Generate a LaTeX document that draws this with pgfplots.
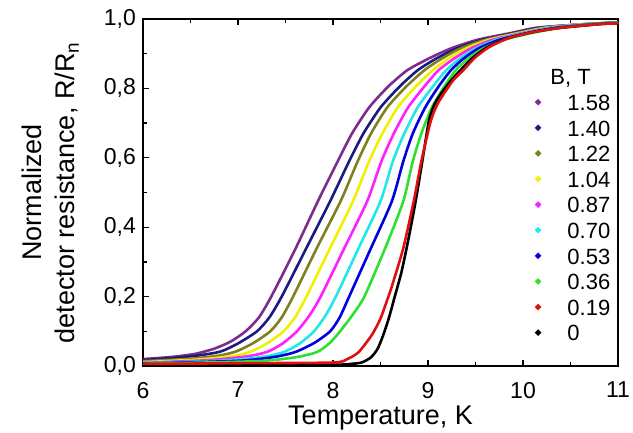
\documentclass[border=0pt]{standalone}
\usepackage{fontspec}
\setmainfont{Liberation Sans}
\usepackage{pgfplots}
\pgfplotsset{compat=1.18}

\definecolor{cPurple}{HTML}{7F2A8F}
\definecolor{cNavy}{HTML}{1A1A80}
\definecolor{cOlive}{HTML}{808020}
\definecolor{cYellow}{HTML}{F0F000}
\definecolor{cMagenta}{HTML}{FF20FF}
\definecolor{cCyan}{HTML}{20E8E8}
\definecolor{cBlue}{HTML}{0000E0}
\definecolor{cGreen}{HTML}{30E030}
\definecolor{cRed}{HTML}{E01010}

\pgfplotsset{
  dotlegend/.style={legend image code/.code={%
    \fill (0pt,0pt) circle (0.75pt);}},
}
\newcommand{\legtxt}[1]{\hspace*{11pt}#1}

\begin{document}
\begin{tikzpicture}
\begin{axis}[
  scale only axis,
  width=237.5pt,
  height=173.5pt,
  xmin=6, xmax=11,
  ymin=0, ymax=1,
  xtick={6,7,8,9,10,11},
  minor xtick={6.5,7.5,8.5,9.5,10.5},
  ytick={0,0.2,0.4,0.6,0.8,1.0},
  minor ytick={0.1,0.3,0.5,0.7,0.9},
  tick align=inside,
  xtick pos=both,
  ytick pos=left,
  major tick length=3pt,
  minor tick length=1.8pt,
  every tick/.style={black, line width=0.6pt},
  axis line style={line width=0.8pt},
  /pgf/number format/assume math mode=true,
  yticklabel style={/pgf/number format/.cd, use comma, fixed, fixed zerofill, precision=1},
  ticklabel style={font=\fontsize{11.5}{13}\selectfont},
  xticklabel style={yshift=-4.5pt},
  xlabel={Temperature, K},
  ylabel={Normalized\\detector resistance, R/R\textsubscript{n}},
  label style={font=\fontsize{13.5}{16.5}\selectfont},
  xlabel style={at={(axis description cs:0.5,-0.15)}, anchor=center},
  ylabel style={at={(axis description cs:-0.195,0.5)}, anchor=center, align=center},
  every axis plot/.append style={line width=1.3pt, smooth, tension=0.4},
  legend style={draw=none, fill=none, at={(rel axis cs:0.825,0.872)}, anchor=north west,
    font=\fontsize{11}{12}\selectfont, row sep=0pt, inner sep=0pt,
    nodes={inner sep=2.3pt, text height=8.2pt, text depth=0pt}},
  legend cell align=left,
]
% 1.58 T
\addplot[cPurple, forget plot] coordinates {(6,0.02)(6.3,0.026)(6.55,0.035)(6.75,0.05)(6.92,0.07)(7.08,0.10)(7.22,0.14)(7.35,0.20)(7.6,0.335)(7.85,0.48)(8.05,0.59)(8.2,0.67)(8.38,0.745)(8.58,0.805)(8.78,0.852)(9.0,0.885)(9.24,0.915)(9.52,0.94)(9.88,0.96)(10.15,0.975)(10.65,0.985)(11,0.99)};
% 1.40 T
\addplot[cNavy, forget plot] coordinates {(6,0.017)(6.35,0.024)(6.6,0.031)(6.82,0.042)(7.0,0.065)(7.2,0.10)(7.33,0.14)(7.46,0.20)(7.72,0.34)(7.97,0.475)(8.17,0.59)(8.32,0.67)(8.5,0.745)(8.7,0.805)(8.89,0.852)(9.08,0.885)(9.3,0.915)(9.57,0.94)(9.92,0.96)(10.18,0.975)(10.65,0.985)(11,0.99)};
% 1.22 T
\addplot[cOlive, forget plot] coordinates {(6,0.014)(6.5,0.021)(6.8,0.03)(6.98,0.042)(7.16,0.066)(7.34,0.10)(7.46,0.14)(7.58,0.20)(7.83,0.34)(8.08,0.475)(8.26,0.59)(8.4,0.67)(8.57,0.745)(8.77,0.805)(8.96,0.852)(9.14,0.885)(9.34,0.915)(9.6,0.94)(9.94,0.96)(10.22,0.975)(10.65,0.985)(11,0.99)};
% 1.04 T
\addplot[cYellow, forget plot] coordinates {(6,0.011)(6.6,0.019)(6.95,0.029)(7.13,0.041)(7.31,0.066)(7.48,0.10)(7.6,0.14)(7.72,0.20)(7.97,0.34)(8.21,0.475)(8.38,0.59)(8.52,0.67)(8.68,0.745)(8.87,0.805)(9.05,0.852)(9.21,0.885)(9.4,0.915)(9.64,0.94)(9.97,0.96)(10.25,0.975)(10.65,0.985)(11,0.99)};
% 0.87 T
\addplot[cMagenta, forget plot] coordinates {(6,0.009)(6.7,0.017)(7.1,0.028)(7.31,0.041)(7.47,0.065)(7.62,0.10)(7.75,0.145)(7.87,0.20)(8.12,0.34)(8.36,0.475)(8.51,0.59)(8.64,0.67)(8.79,0.745)(8.96,0.805)(9.11,0.852)(9.27,0.885)(9.45,0.915)(9.68,0.94)(10.0,0.96)(10.28,0.975)(10.7,0.985)(11,0.99)};
% 0.70 T
\addplot[cCyan, forget plot] coordinates {(6,0.008)(6.8,0.015)(7.25,0.026)(7.48,0.04)(7.65,0.065)(7.8,0.10)(7.92,0.145)(8.03,0.20)(8.27,0.34)(8.50,0.475)(8.63,0.59)(8.75,0.67)(8.89,0.745)(9.05,0.805)(9.19,0.852)(9.33,0.885)(9.5,0.915)(9.72,0.94)(10.02,0.96)(10.3,0.975)(10.7,0.985)(11,0.99)};
% 0.53 T
\addplot[cBlue, forget plot] coordinates {(6,0.007)(7.0,0.015)(7.38,0.026)(7.6,0.04)(7.8,0.066)(7.97,0.10)(8.07,0.14)(8.17,0.20)(8.4,0.34)(8.62,0.475)(8.74,0.59)(8.84,0.67)(8.97,0.745)(9.11,0.805)(9.24,0.852)(9.37,0.885)(9.53,0.915)(9.75,0.94)(10.05,0.96)(10.35,0.975)(10.72,0.985)(11,0.99)};
% 0.36 T
\addplot[cGreen, forget plot] coordinates {(6,0.006)(7.2,0.014)(7.6,0.025)(7.83,0.04)(7.96,0.065)(8.06,0.095)(8.2,0.145)(8.33,0.20)(8.55,0.34)(8.74,0.475)(8.84,0.59)(8.93,0.67)(9.04,0.745)(9.17,0.805)(9.29,0.852)(9.42,0.885)(9.58,0.915)(9.8,0.94)(10.1,0.96)(10.4,0.975)(10.75,0.985)(11,0.99)};
% 0 T
\addplot[black, forget plot] coordinates {(6,0.004)(8.0,0.004)(8.18,0.006)(8.3,0.01)(8.4,0.025)(8.47,0.05)(8.53,0.09)(8.59,0.14)(8.65,0.20)(8.72,0.27)(8.79,0.36)(8.87,0.475)(8.94,0.59)(9.01,0.707)(9.07,0.755)(9.15,0.79)(9.25,0.825)(9.34,0.852)(9.47,0.888)(9.62,0.918)(9.82,0.943)(10.1,0.962)(10.38,0.974)(10.8,0.985)(11,0.988)};
% 0.19 T
\addplot[cRed, forget plot] coordinates {(6,0.006)(7.0,0.008)(8.0,0.01)(8.15,0.02)(8.27,0.04)(8.41,0.09)(8.5,0.137)(8.57,0.19)(8.62,0.23)(8.74,0.34)(8.85,0.475)(8.93,0.59)(9.03,0.707)(9.1,0.755)(9.18,0.79)(9.27,0.825)(9.37,0.852)(9.5,0.89)(9.65,0.92)(9.85,0.945)(10.1,0.962)(10.4,0.975)(10.8,0.985)(11,0.988)};

\addlegendimage{empty legend}\addlegendentry{\hspace*{2.5pt}B, T}
\addlegendimage{dotlegend, cPurple}\addlegendentry{\legtxt{1.58}}
\addlegendimage{dotlegend, cNavy}\addlegendentry{\legtxt{1.40}}
\addlegendimage{dotlegend, cOlive}\addlegendentry{\legtxt{1.22}}
\addlegendimage{dotlegend, cYellow}\addlegendentry{\legtxt{1.04}}
\addlegendimage{dotlegend, cMagenta}\addlegendentry{\legtxt{0.87}}
\addlegendimage{dotlegend, cCyan}\addlegendentry{\legtxt{0.70}}
\addlegendimage{dotlegend, cBlue}\addlegendentry{\legtxt{0.53}}
\addlegendimage{dotlegend, cGreen}\addlegendentry{\legtxt{0.36}}
\addlegendimage{dotlegend, cRed}\addlegendentry{\legtxt{0.19}}
\addlegendimage{dotlegend, black}\addlegendentry{\legtxt{0}}

\coordinate (sw) at (rel axis cs:0,0);
\coordinate (ne) at (rel axis cs:1,1);
\end{axis}
\pgfresetboundingbox
\path ([shift={(-71.5pt,-33pt)}]sw) rectangle ([shift={(7.5pt,9.5pt)}]ne);
\end{tikzpicture}
\end{document}
